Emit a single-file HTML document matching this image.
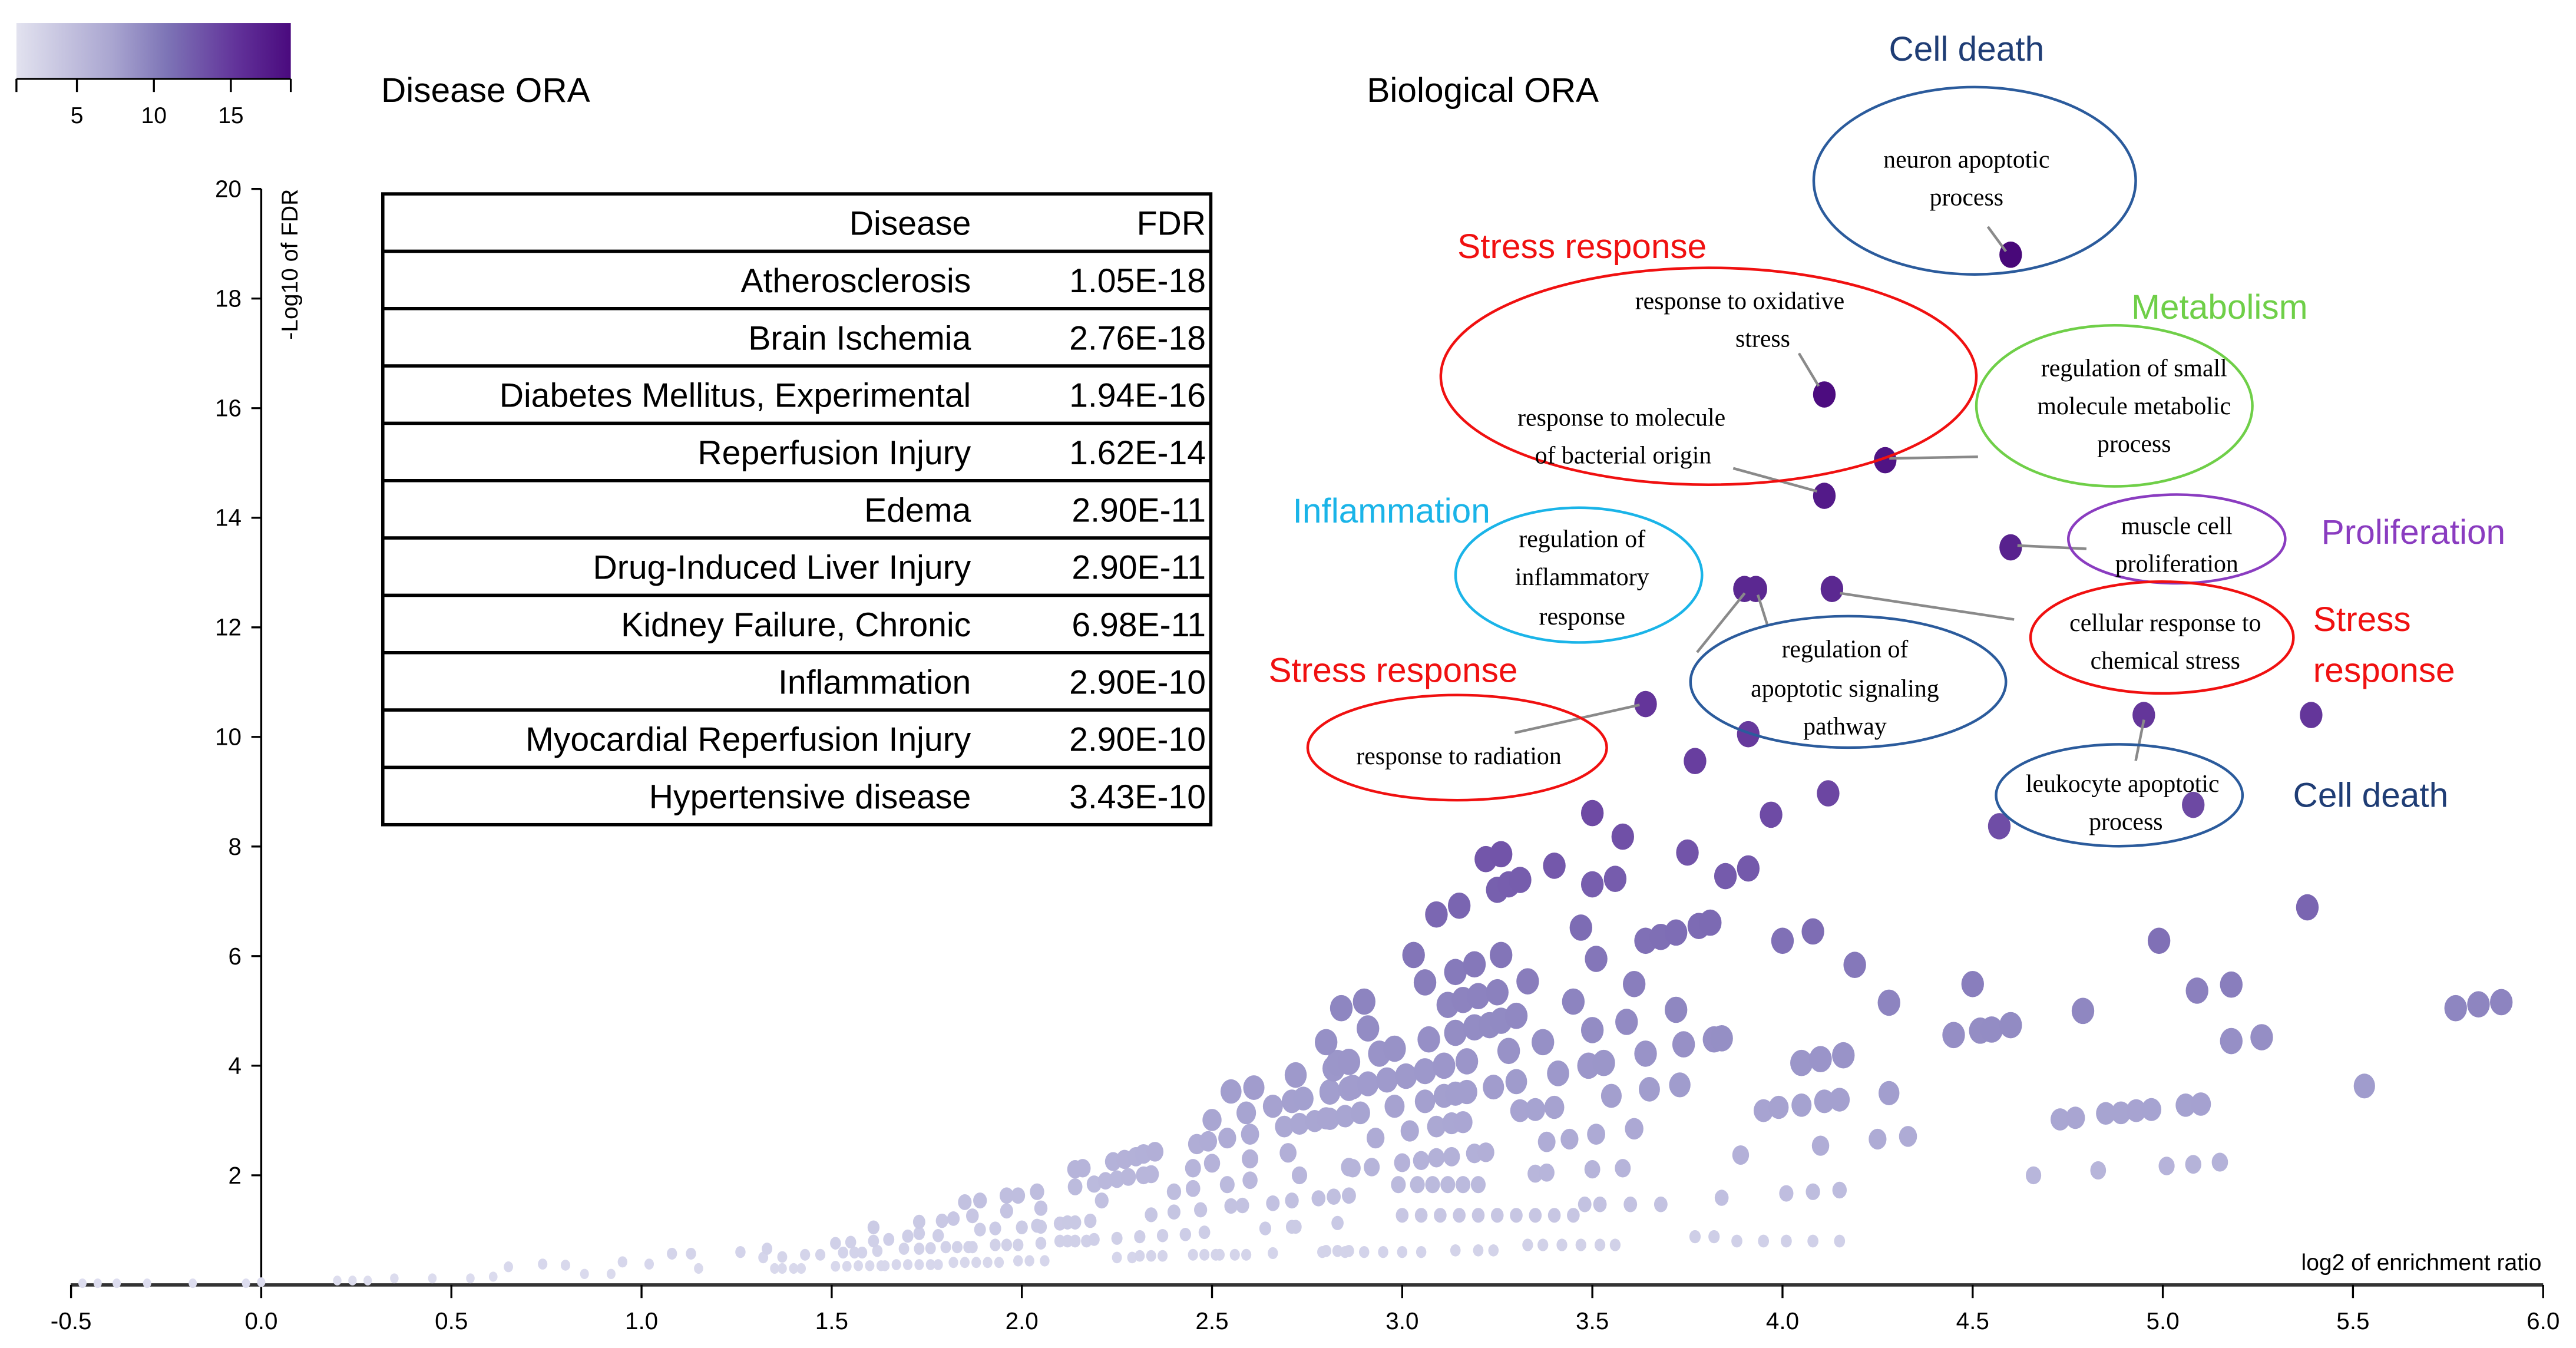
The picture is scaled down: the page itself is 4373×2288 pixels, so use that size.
<!DOCTYPE html>
<html><head><meta charset="utf-8"><title>Disease and Biological ORA</title>
<style>
html,body{margin:0;padding:0;background:#fff;}
svg{display:block;}
.sans{font-family:"Liberation Sans",sans-serif;}
.serif{font-family:"Liberation Serif",serif;}
</style></head>
<body>
<svg id="chart" width="4373" height="2288" viewBox="0 0 1568 820.4" preserveAspectRatio="none" xmlns="http://www.w3.org/2000/svg">
<defs>
<linearGradient id="cbg" x1="0" x2="1" y1="0" y2="0">
<stop offset="0" stop-color="#e2e2ef"/><stop offset="0.35" stop-color="#a9a5d0"/><stop offset="0.55" stop-color="#7d74b6"/><stop offset="0.8" stop-color="#62339a"/><stop offset="1" stop-color="#4a0a7e"/>
</linearGradient>
</defs>
<g id="colorbar">
<rect x="10" y="14" width="167" height="34" fill="url(#cbg)"/>
<line x1="10" y1="48" x2="177" y2="48" stroke="#000" stroke-width="1.2"/>
<g id="cbticks" class="sans" font-size="14"></g>
</g>
<text class="sans" x="232" y="62" font-size="21">Disease ORA</text>
<text class="sans" x="832" y="62" font-size="21">Biological ORA</text>

<g id="axes" class="sans" font-size="14.5"></g>
<g id="points"></g>

<g id="table" font-family="Liberation Sans, sans-serif" font-size="20.5"></g>

<g id="annot">
<g stroke="#8a8a8a" stroke-width="1.6" fill="none">
<line x1="1210" y1="138" x2="1221" y2="153"/>
<line x1="1095" y1="215" x2="1107" y2="235"/>
<line x1="1055" y1="285" x2="1106" y2="299"/>
<line x1="1150" y1="279" x2="1204" y2="278"/>
<line x1="1228" y1="332" x2="1270" y2="334"/>
<line x1="1033" y1="397" x2="1062" y2="361"/>
<line x1="1070" y1="362" x2="1076" y2="381"/>
<line x1="1120" y1="361" x2="1226" y2="377"/>
<line x1="922" y1="446" x2="998" y2="429"/>
<line x1="1300" y1="463" x2="1305" y2="438"/>
</g>
<g fill="none" stroke-width="1.6">
<ellipse cx="1202" cy="110" rx="98" ry="57" stroke="#2b5b9c"/>
<ellipse cx="1040" cy="229" rx="163" ry="66" stroke="#f01010"/>
<ellipse cx="1287" cy="247" rx="84" ry="49" stroke="#6fcf48"/>
<ellipse cx="961" cy="350" rx="75" ry="41" stroke="#1ab4e8"/>
<ellipse cx="1325" cy="328" rx="66" ry="27" stroke="#8a3cc0"/>
<ellipse cx="1316" cy="388" rx="80" ry="34" stroke="#f01010"/>
<ellipse cx="1125" cy="415" rx="96" ry="40" stroke="#2b5b9c"/>
<ellipse cx="887" cy="455" rx="91" ry="32" stroke="#f01010"/>
<ellipse cx="1290" cy="484" rx="75" ry="31" stroke="#2b5b9c"/>
</g>
<g class="serif" font-size="15" text-anchor="middle" fill="#000">
<text x="1197" y="102">neuron apoptotic</text>
<text x="1197" y="125">process</text>
<text x="1059" y="188">response to oxidative</text>
<text x="1073" y="211">stress</text>
<text x="987" y="259">response to molecule</text>
<text x="988" y="282">of bacterial origin</text>
<text x="1299" y="229">regulation of small</text>
<text x="1299" y="252">molecule metabolic</text>
<text x="1299" y="275">process</text>
<text x="963" y="333">regulation of</text>
<text x="963" y="356">inflammatory</text>
<text x="963" y="380">response</text>
<text x="1325" y="325">muscle cell</text>
<text x="1325" y="348">proliferation</text>
<text x="1318" y="384">cellular response to</text>
<text x="1318" y="407">chemical stress</text>
<text x="1123" y="400">regulation of</text>
<text x="1123" y="424">apoptotic signaling</text>
<text x="1123" y="447">pathway</text>
<text x="888" y="465">response to radiation</text>
<text x="1292" y="482">leukocyte apoptotic</text>
<text x="1294" y="505">process</text>
</g>
<g class="sans" font-size="21">
<text x="1197" y="37" text-anchor="middle" fill="#1f3d75">Cell death</text>
<text x="963" y="157" text-anchor="middle" fill="#f01010">Stress response</text>
<text x="1351" y="194" text-anchor="middle" fill="#6fcf48">Metabolism</text>
<text x="847" y="318" text-anchor="middle" fill="#1ab4e8">Inflammation</text>
<text x="1469" y="331" text-anchor="middle" fill="#8a3cc0">Proliferation</text>
<text x="1408" y="384" fill="#f01010">Stress</text>
<text x="1408" y="415" fill="#f01010">response</text>
<text x="848" y="415" text-anchor="middle" fill="#f01010">Stress response</text>
<text x="1443" y="491" text-anchor="middle" fill="#1f3d75">Cell death</text>
</g>
</g>
</svg>
<script>
// labeled / upper points
const hiX = [4.60,4.11,4.27,4.11,4.60,3.90,3.93,4.13,3.64,4.95,5.39,3.77,3.91,4.12,3.97,3.50,3.58,4.57,5.08];
const hiY = [18.8,16.25,15.05,14.4,13.46,12.7,12.7,12.7,10.6,10.4,10.4,9.56,10.05,8.97,8.58,8.61,8.18,8.37,8.76];
// upper cloud x 2.8-4.35
const cloudX = [3.75,3.85,3.91,3.09,3.15,3.22,3.26,3.25,3.28,3.31,3.40,3.50,3.56,3.47,3.64,3.68,3.72,3.78,3.81,4.00,4.08,4.19,4.28,3.03,3.06,3.14,3.19,3.26,3.33,3.51,3.61,3.45,3.72,2.84,2.90,3.12,3.16,3.20,3.25,2.91,3.14,3.19,3.23,3.26,3.30,3.37,3.07,3.50,3.59,3.82,3.84,3.74,3.64,2.94,2.98,2.80,2.83,2.86,2.81,2.87,2.91,2.96,3.01,3.06,3.11,3.17,3.28,3.41,3.49,3.53,4.05,4.10,4.16,4.28,2.80,2.89,2.98,3.06,3.11,3.14,3.17,3.24,3.30,3.40,3.31,3.35,3.55,3.65,3.73,3.95,3.99,4.05,4.11,4.15,2.93,3.02,3.09,3.13,3.16,3.38,3.44,3.51,3.61,3.89,4.10,4.25,4.33,2.87,2.92,3.00,3.05,3.09,3.13,3.19,3.22,3.35,3.38,3.50,3.58];
const cloudY = [7.89,7.46,7.60,6.76,6.92,7.77,7.86,7.21,7.31,7.39,7.65,7.31,7.41,6.52,6.28,6.35,6.43,6.55,6.61,6.28,6.45,5.84,5.15,6.02,5.52,5.71,5.85,6.02,5.54,5.95,5.49,5.17,5.02,5.05,5.17,5.11,5.20,5.27,5.34,4.68,4.60,4.70,4.74,4.82,4.91,4.43,4.48,4.65,4.80,4.48,4.50,4.39,4.22,4.22,4.31,4.43,4.05,4.07,3.53,3.61,3.67,3.74,3.81,3.90,4.00,4.08,4.27,3.86,4.00,4.05,4.05,4.12,4.19,3.50,3.04,3.14,3.26,3.35,3.45,3.49,3.52,3.61,3.71,3.24,3.18,3.20,3.45,3.57,3.65,3.18,3.24,3.28,3.35,3.38,2.68,2.81,2.89,2.95,2.97,2.61,2.66,2.75,2.85,2.37,2.54,2.66,2.71,2.13,2.15,2.23,2.27,2.32,2.34,2.40,2.42,2.03,2.05,2.11,2.13];
// right side x > 4.4
const rightX = [4.50,4.45,4.52,4.55,4.60,4.79,4.99,5.09,5.18,5.18,5.26,5.38,5.53,5.77,5.83,5.89,4.73,4.77,4.85,4.89,4.93,4.97,5.06,5.10,4.66,4.83,5.01,5.08,5.15,4.01,4.08,4.15,3.88,3.95,4.01,4.08,4.15,3.84];
const rightY = [5.49,4.56,4.64,4.66,4.74,5.00,6.28,5.37,5.48,4.45,4.52,6.89,3.63,5.05,5.12,5.16,3.02,3.05,3.13,3.14,3.18,3.20,3.28,3.30,2.00,2.09,2.17,2.20,2.24,1.67,1.70,1.73,0.80,0.80,0.80,0.80,0.80,1.59];
// lower band x 2.8-3.8
const lowX = [2.99,3.04,3.08,3.12,3.16,3.20,3.48,3.52,3.60,3.68,3.00,3.05,3.10,3.15,3.20,3.25,3.30,3.35,3.40,3.45,3.77,3.82,3.33,3.37,3.42,3.47,3.52,3.56,2.79,2.85,2.90,2.95,3.00,3.05,3.14,3.20,3.24];
const lowY = [1.83,1.83,1.83,1.83,1.83,1.83,1.47,1.47,1.47,1.47,1.27,1.27,1.27,1.27,1.27,1.27,1.27,1.27,1.27,1.27,0.88,0.88,0.73,0.73,0.73,0.73,0.73,0.73,0.60,0.60,0.60,0.60,0.60,0.60,0.63,0.63,0.63];
// mid region x 2.25-2.9
const midX = [2.55,2.61,2.72,2.82,2.50,2.59,2.66,2.71,2.74,2.81,2.86,2.69,2.73,2.77,2.81,2.85,2.46,2.49,2.54,2.60,2.45,2.50,2.60,2.70,2.73,2.54,2.60,2.40,2.45,2.86,2.78,2.82,2.86,2.66,2.71,2.55,2.58,2.47,2.40,2.34,2.64,2.71,2.72,2.83,2.80,2.83,2.86,2.66,2.56,2.59,2.45,2.48,2.51,2.52,2.31,2.34,2.37,2.25,2.29,2.48,2.43,2.37,2.31,2.25];
const midY = [3.53,3.60,3.83,3.95,3.01,3.14,3.26,3.35,3.40,3.51,3.58,2.89,2.94,2.99,3.03,3.08,2.57,2.62,2.68,2.75,2.13,2.22,2.30,2.41,2.00,1.83,1.91,1.70,1.76,2.15,1.58,1.61,1.63,1.49,1.54,1.44,1.45,1.37,1.33,1.28,1.03,1.06,1.06,1.13,0.62,0.62,0.62,0.58,0.55,0.55,0.55,0.55,0.55,0.55,0.53,0.53,0.53,0.50,0.50,0.96,0.92,0.90,0.88,0.85];
// x 1.9-2.35
const m2X = [2.14,2.16,2.24,2.27,2.30,2.32,2.35,2.19,2.22,2.25,2.28,2.32,2.34,2.14,2.21,2.10,2.12,2.14,2.18,2.10,2.12,2.14,2.17,2.19,2.05,2.05,1.99,2.02,2.06,1.93,1.96,1.99];
const m2Y = [2.11,2.13,2.25,2.29,2.34,2.39,2.43,1.84,1.90,1.93,1.97,2.00,2.02,1.79,1.54,1.12,1.14,1.14,1.17,0.80,0.80,0.80,0.80,0.83,1.06,0.76,0.44,0.44,0.44,0.73,0.73,0.73];
// x 1.33-2.05
const m3X = [1.85,1.89,1.96,1.99,2.04,1.96,2.05,1.87,1.82,1.79,1.73,1.89,1.93,2.00,2.04,1.61,1.78,1.73,1.70,1.65,1.61,1.55,1.51,1.80,1.83,1.86,1.87,1.69,1.73,1.76,1.62,1.53,1.56,1.58,1.33,1.37,1.43,1.47,1.35,1.37,1.40,1.42,1.51,1.54,1.57,1.60,1.63,1.64,1.67,1.70,1.73,1.76,1.78,1.82,1.85,1.88,1.91,1.94];
const m3Y = [1.51,1.54,1.63,1.63,1.70,1.35,1.40,1.26,1.21,1.17,1.15,1.01,1.03,1.05,1.08,1.05,0.90,0.94,0.89,0.83,0.80,0.78,0.76,0.69,0.69,0.69,0.69,0.66,0.66,0.67,0.62,0.59,0.59,0.59,0.66,0.51,0.55,0.55,0.30,0.30,0.30,0.30,0.34,0.34,0.35,0.35,0.35,0.35,0.37,0.37,0.37,0.37,0.37,0.41,0.41,0.41,0.41,0.41];
// far left
const leftX = [1.08,1.13,1.26,1.32,0.95,1.02,1.15,0.65,0.74,0.80,0.85,0.92,0.35,0.45,0.55,0.61,0.20,0.24,0.28,-0.47,-0.43,-0.38,-0.30,-0.18,-0.04,0.00];
const leftY = [0.57,0.57,0.60,0.50,0.42,0.38,0.30,0.33,0.38,0.36,0.20,0.20,0.12,0.12,0.12,0.15,0.08,0.08,0.08,0.03,0.03,0.03,0.03,0.03,0.03,0.05];

const ptX = [].concat(hiX, cloudX, rightX, lowX, midX, m2X, m3X, leftX);
const ptY = [].concat(hiY, cloudY, rightY, lowY, midY, m2Y, m3Y, leftY);

const xTicks = [-0.5,0,0.5,1,1.5,2,2.5,3,3.5,4,4.5,5,5.5,6];
const yTicks = [2,4,6,8,10,12,14,16,18,20];
const cbTicks = [5,10,15];
const tableDisease = ["Atherosclerosis","Brain Ischemia","Diabetes Mellitus, Experimental","Reperfusion Injury","Edema","Drug-Induced Liver Injury","Kidney Failure, Chronic","Inflammation","Myocardial Reperfusion Injury","Hypertensive disease"];
const tableFDR = ["1.05E-18","2.76E-18","1.94E-16","1.62E-14","2.90E-11","2.90E-11","6.98E-11","2.90E-10","2.90E-10","3.43E-10"];

const NS = "http://www.w3.org/2000/svg";
function xs(v){ return 159 + v * 231.5; }
function ys(v){ return 782 - v * 33.35; }
function cbx(v){ return 10 + (v - 1.07) * 9.37; }
function mk(tag, attrs, parent){ const e = document.createElementNS(NS, tag); for (const k in attrs) e.setAttribute(k, attrs[k]); parent.appendChild(e); return e; }

const stops = [[0,[222,222,239]],[1,[204,204,230]],[2,[184,182,219]],[3.5,[162,158,206]],[5,[143,135,193]],[6.5,[125,108,180]],[8,[113,82,168]],[10,[102,57,156]],[13,[90,38,144]],[16,[76,12,128]],[19,[72,8,120]]];
function colorFor(v){
  for (let i = 1; i < stops.length; i++) {
    if (v <= stops[i][0]) {
      const a = stops[i-1], b = stops[i], t = (v - a[0]) / (b[0] - a[0]);
      const c = a[1].map((x, j) => Math.round(x + (b[1][j] - x) * t));
      return "rgb(" + c.join(",") + ")";
    }
  }
  return "rgb(72,8,120)";
}

// axes
const ax = document.getElementById("axes");
const yl = mk("line", {x1:159, y1:ys(20), x2:159, y2:782, stroke:"#000", "stroke-width":1.2}, ax);


const xl = mk("line", {x1:43, y1:782, x2:1548, y2:782, stroke:"#333", "stroke-width":2}, ax);


yTicks.forEach(v => {
  mk("line", {x1:153, y1:ys(v), x2:159, y2:ys(v), stroke:"#000", "stroke-width":1.2}, ax);
  const t = mk("text", {x:147, y:ys(v)+5, "text-anchor":"end"}, ax);
  t.textContent = v;
  
  
});
xTicks.forEach(v => {
  mk("line", {x1:xs(v), y1:782, x2:xs(v), y2:790, stroke:"#000", "stroke-width":1.2}, ax);
  const t = mk("text", {x:xs(v), y:809, "text-anchor":"middle"}, ax);
  t.textContent = v.toFixed(1);
  
  
});
const yt = mk("text", {transform:"translate(181,115) rotate(-90)", "text-anchor":"end", "font-size":14}, ax);
yt.textContent = "-Log10 of FDR";


const xt = mk("text", {x:1547, y:773, "text-anchor":"end", "font-size":14}, ax);
xt.textContent = "log2 of enrichment ratio";



// colorbar ticks
const cbg = document.getElementById("cbticks");
[10,177].forEach(x => mk("line", {x1:x, y1:48, x2:x, y2:56, stroke:"#000", "stroke-width":1.2}, cbg));
cbTicks.forEach(v => {
  mk("line", {x1:cbx(v), y1:48, x2:cbx(v), y2:56, stroke:"#000", "stroke-width":1.2}, cbg);
  const t = mk("text", {x:cbx(v), y:75, "text-anchor":"middle"}, cbg);
  t.textContent = v;
  
  
});

// points
const pg = document.getElementById("points");
const idx = ptX.map((_, i) => i).sort((a, b) => ptY[a] - ptY[b]);
idx.forEach(i => {
  const v = ptY[i];
  const r = Math.min(8.0, (8 + 3.6 * v) / 2.789);
  const c = mk("ellipse", {cx:xs(ptX[i]), cy:ys(v), rx:r*0.86, ry:r, fill:colorFor(v)}, pg);
  
  
});

// table
const tg = document.getElementById("table");
const tTop = 118, rh = 34.9, tLeft = 233, tRight = 737;
mk("rect", {x:tLeft, y:tTop, width:tRight-tLeft, height:rh*11, fill:"none", stroke:"#000", "stroke-width":2}, tg);
for (let i = 1; i < 11; i++) mk("line", {x1:tLeft, y1:tTop+rh*i, x2:tRight, y2:tTop+rh*i, stroke:"#000", "stroke-width":2}, tg);
const h1 = mk("text", {x:591, y:tTop+rh*0.5+7.5, "text-anchor":"end"}, tg);
h1.textContent = "Disease";


const h2 = mk("text", {x:734, y:tTop+rh*0.5+7.5, "text-anchor":"end"}, tg);
h2.textContent = "FDR";


tableDisease.forEach((d, i) => {
  const y = tTop + rh*(i+1.5) + 7.5;
  const a = mk("text", {x:591, y:y, "text-anchor":"end"}, tg);
  a.textContent = d;
  
  
  const b = mk("text", {x:734, y:y, "text-anchor":"end"}, tg);
  b.textContent = tableFDR[i];
  
  
});
</script>
</body></html>
